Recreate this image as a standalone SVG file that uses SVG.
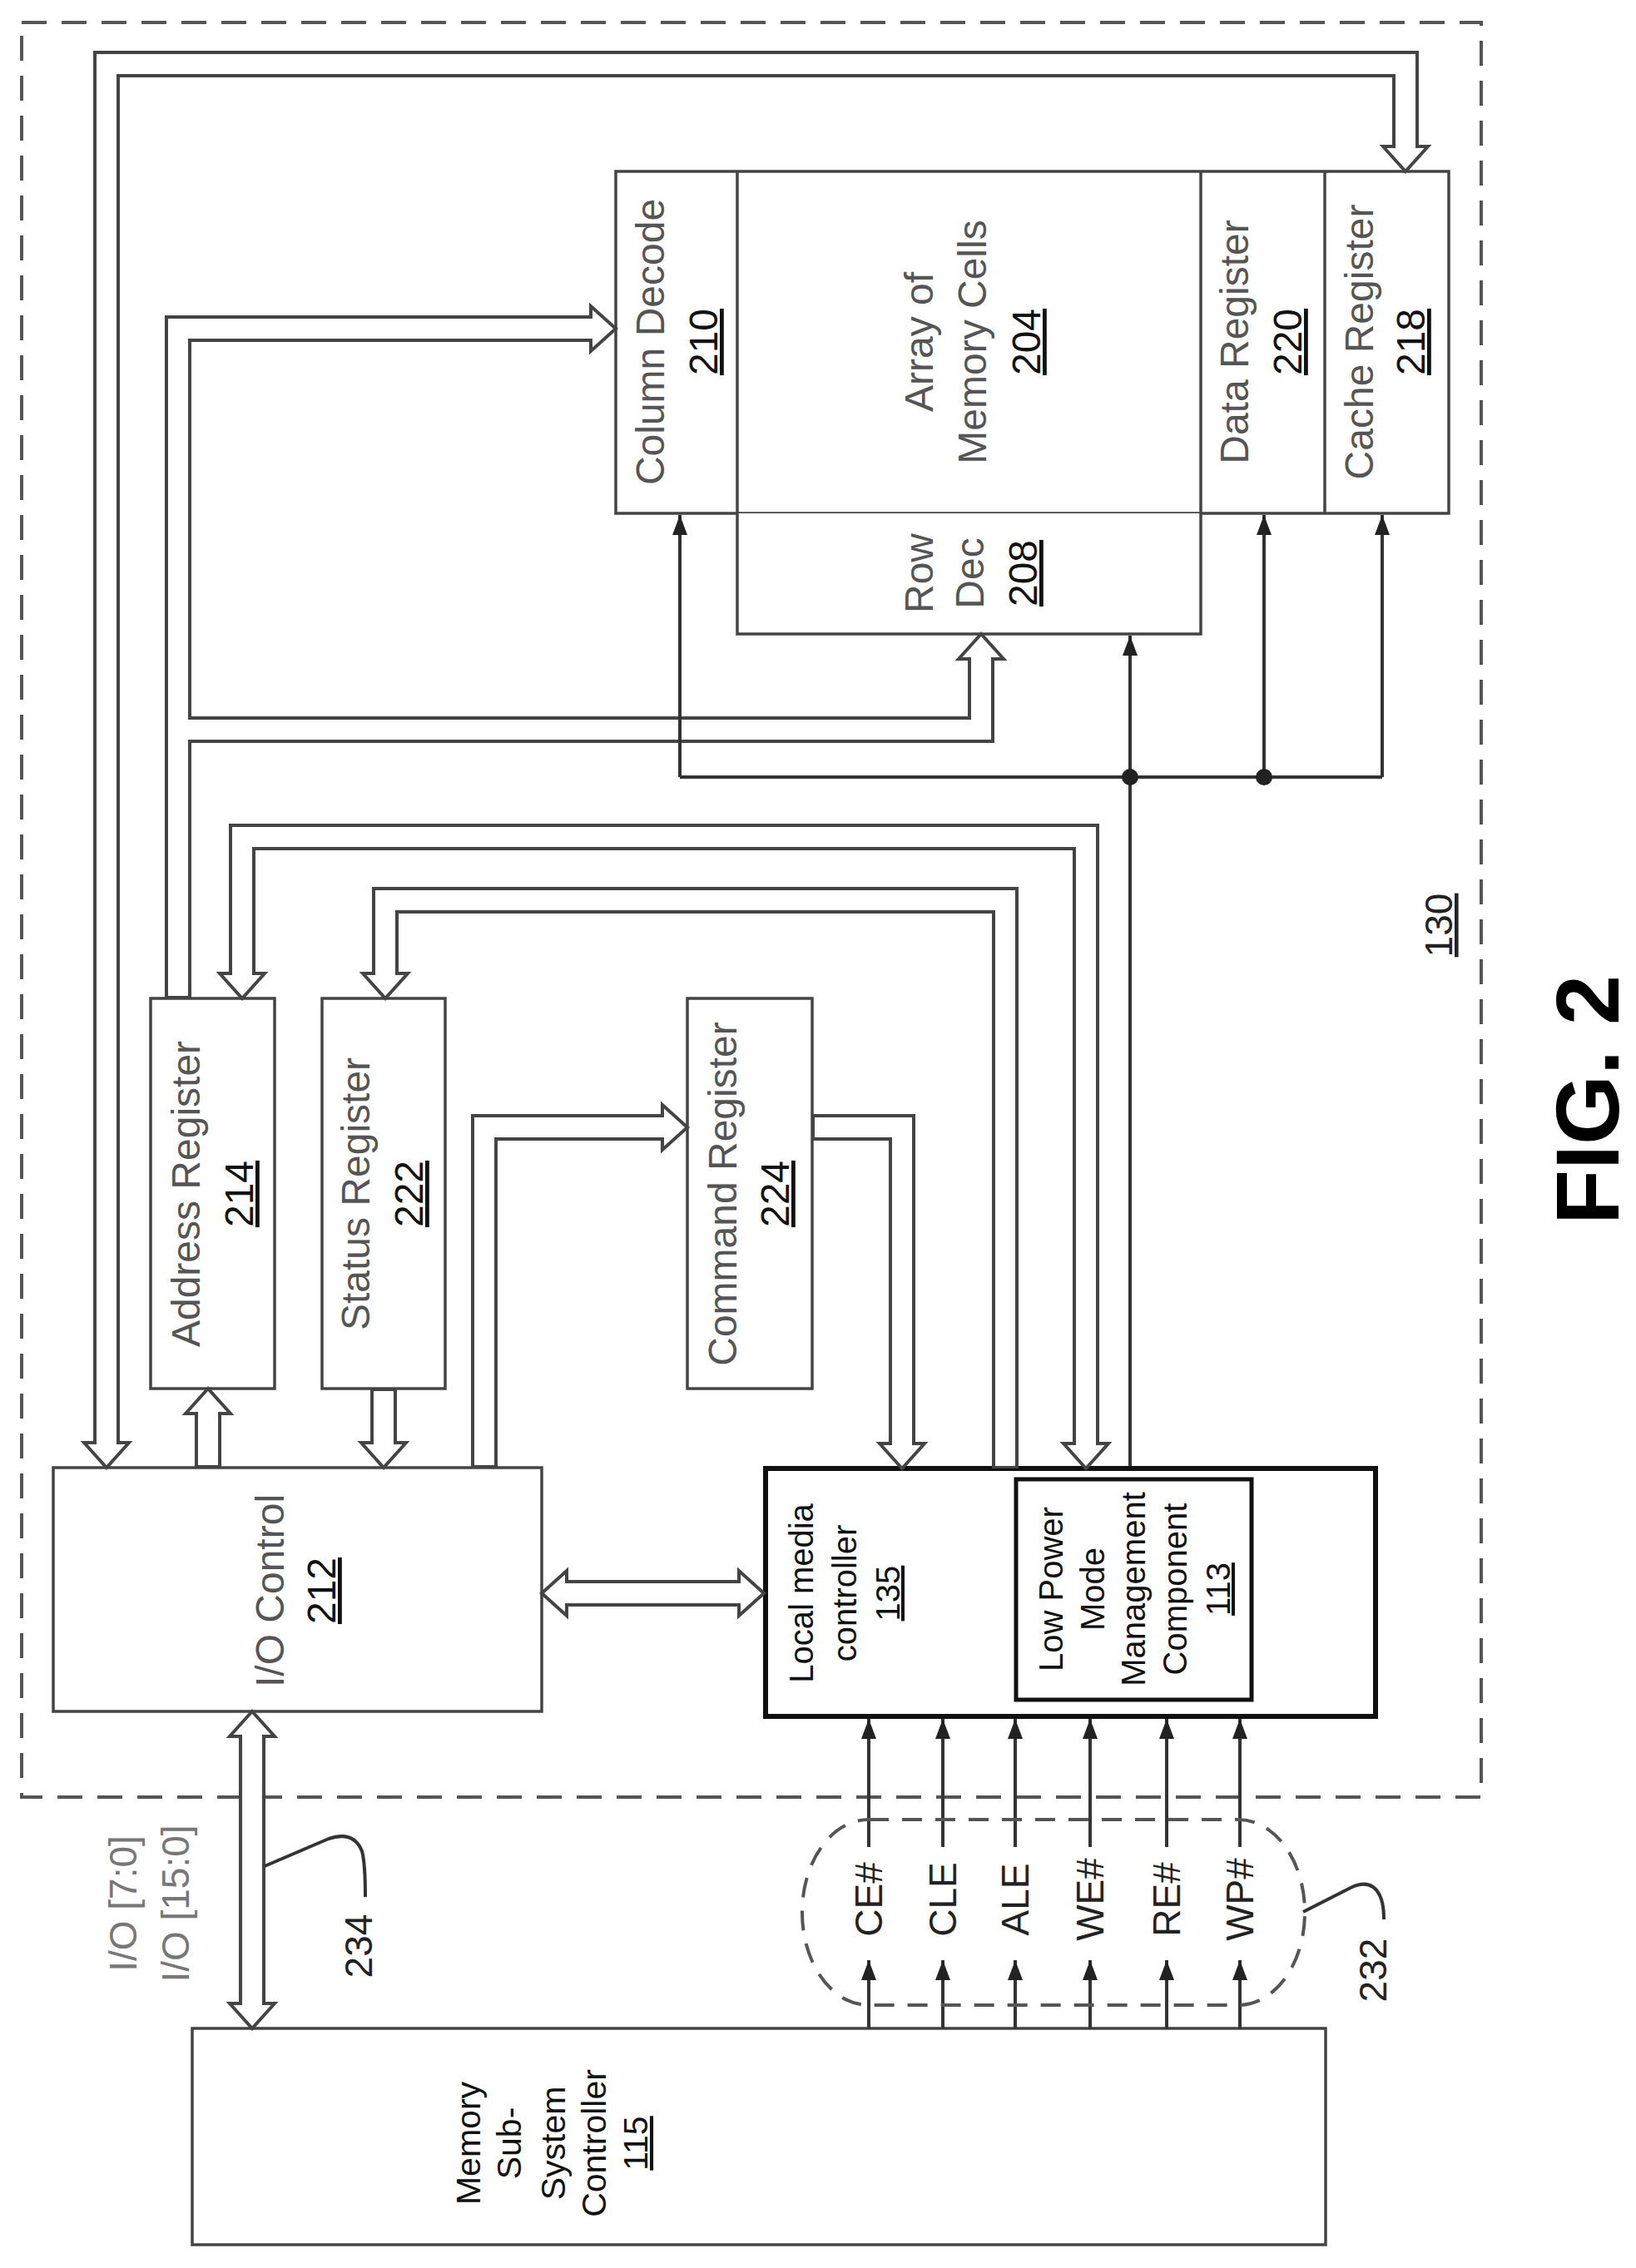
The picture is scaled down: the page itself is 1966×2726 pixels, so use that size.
<svg xmlns="http://www.w3.org/2000/svg" width="1966" height="2726" viewBox="0 0 1966 2726">
<style>
.box{fill:#fff;stroke:#444;stroke-width:3.5}
.bo{fill:none;stroke:#444;stroke-width:32}
.bi{fill:none;stroke:#fff;stroke-width:24}
.ah{fill:#fff;stroke:#444;stroke-width:4;stroke-linejoin:miter}
.ln{fill:none;stroke:#333;stroke-width:4}
.t{font-family:"Liberation Sans",Arial,sans-serif;font-size:48px;fill:#555;text-anchor:middle}
.n{fill:#111;text-decoration:underline}
.s{font-family:"Liberation Sans",Arial,sans-serif;font-size:40px;fill:#111;text-anchor:middle}
</style>
<defs>
<marker id="a" viewBox="0 0 24 18" markerWidth="24" markerHeight="18" refX="24" refY="9" markerUnits="userSpaceOnUse" orient="auto"><path d="M0,0 L24,9 L0,18 z" fill="#222"/></marker>
</defs>
<rect x="26" y="27" width="1754" height="2133" fill="none" stroke="#555" stroke-width="4" stroke-dasharray="30 18"/>
<g id="n204"><rect class="box" x="740" y="206" width="1001" height="411"/>
<line x1="886" y1="206" x2="886" y2="617" stroke="#444" stroke-width="3.5"/>
<line x1="1443" y1="206" x2="1443" y2="617" stroke="#444" stroke-width="3.5"/>
<line x1="1592" y1="206" x2="1592" y2="617" stroke="#444" stroke-width="3.5"/>
<text class="t" transform="translate(0,411) rotate(-90)"><tspan x="0" y="798">Column Decode</tspan><tspan class="n" x="0" y="862">210</tspan></text>
<text class="t" transform="translate(0,411) rotate(-90)"><tspan x="0" y="1121">Array of</tspan><tspan x="0" y="1185">Memory Cells</tspan><tspan class="n" x="0" y="1250">204</tspan></text>
<text class="t" transform="translate(0,411) rotate(-90)"><tspan x="0" y="1500">Data Register</tspan><tspan class="n" x="0" y="1564">220</tspan></text>
<text class="t" transform="translate(0,411) rotate(-90)"><tspan x="0" y="1650">Cache Register</tspan><tspan class="n" x="0" y="1712">218</tspan></text>
</g>
<g id="n208"><path class="box" d="M886,617 V762 H1443 V617"/>
<text class="t" transform="translate(0,689) rotate(-90)"><tspan x="0" y="1121">Row</tspan><tspan x="0" y="1182">Dec</tspan><tspan class="n" x="0" y="1246">208</tspan></text></g>
<g id="n214"><rect class="box" x="181" y="1200" width="149" height="469"/>
<text class="t" transform="translate(0,1435) rotate(-90)"><tspan x="0" y="240">Address Register</tspan><tspan class="n" x="0" y="304">214</tspan></text></g>
<g id="n222"><rect class="box" x="387" y="1200" width="148" height="469"/>
<text class="t" transform="translate(0,1435) rotate(-90)"><tspan x="0" y="444">Status Register</tspan><tspan class="n" x="0" y="508">222</tspan></text></g>
<g id="n224"><rect class="box" x="826" y="1200" width="150" height="469"/>
<text class="t" transform="translate(0,1435) rotate(-90)"><tspan x="0" y="885">Command Register</tspan><tspan class="n" x="0" y="948">224</tspan></text></g>
<g id="n212"><rect class="box" x="64" y="1764" width="587" height="293"/>
<text class="t" transform="translate(0,1912) rotate(-90)"><tspan x="0" y="341">I/O Control</tspan><tspan class="n" x="0" y="403">212</tspan></text></g>
<g id="n135"><rect x="920" y="1765" width="733" height="298" fill="#fff" stroke="#111" stroke-width="6"/>
<text class="s" transform="translate(0,1915) rotate(-90)"><tspan x="0" y="977">Local media</tspan><tspan x="0" y="1029">controller</tspan><tspan x="0" y="1081" text-decoration="underline">135</tspan></text></g>
<g id="n113"><rect x="1221" y="1778" width="283" height="265" fill="#fff" stroke="#111" stroke-width="5"/>
<text class="s" transform="translate(0,1910) rotate(-90)"><tspan x="0" y="1277">Low Power</tspan><tspan x="0" y="1327">Mode</tspan><tspan x="0" y="1376">Management</tspan><tspan x="0" y="1426">Component</tspan><tspan x="0" y="1478" text-decoration="underline">113</tspan></text></g>
<g id="n115"><rect class="box" x="231" y="2438" width="1362" height="260"/>
<text class="s" style="font-size:41px" transform="translate(0,2576) rotate(-90)"><tspan x="0" y="577">Memory</tspan><tspan x="0" y="626">Sub-</tspan><tspan x="0" y="679">System</tspan><tspan x="0" y="728">Controller</tspan><tspan x="0" y="778" text-decoration="underline">115</tspan></text></g>
<g id="connectors">
<path class="bo" d="M128,1734 V77 H1689 V176"/>
<path class="bo" d="M214,1200 V395 H710"/>
<path class="bo" d="M214,877 H1179 V792"/>
<path class="bo" d="M291,1170 V1006 H1305 V1735"/>
<path class="bo" d="M463,1170 V1082 H1208 V1765"/>
<path class="bo" d="M582,1764 V1355 H796"/>
<path class="bo" d="M976,1355 H1084 V1735"/>
<path class="bo" d="M250,1764 V1699"/>
<path class="bo" d="M461,1669 V1734"/>
<path class="bo" d="M681,1915 H888"/>
<path class="bo" d="M303,2087 V2408"/>
<polygon class="ah" points="101,1734 128,1764 155,1734"/>
<polygon class="ah" points="1662,176 1689,206 1716,176"/>
<polygon class="ah" points="710,368 740,395 710,422"/>
<polygon class="ah" points="1152,792 1179,762 1206,792"/>
<polygon class="ah" points="264,1170 291,1200 318,1170"/>
<polygon class="ah" points="1278,1735 1305,1765 1332,1735"/>
<polygon class="ah" points="436,1170 463,1200 490,1170"/>
<polygon class="ah" points="796,1328 826,1355 796,1382"/>
<polygon class="ah" points="1057,1735 1084,1765 1111,1735"/>
<polygon class="ah" points="223,1699 250,1669 277,1699"/>
<polygon class="ah" points="434,1734 461,1764 488,1734"/>
<polygon class="ah" points="681,1888 651,1915 681,1942"/>
<polygon class="ah" points="888,1888 918,1915 888,1942"/>
<polygon class="ah" points="276,2087 303,2057 330,2087"/>
<polygon class="ah" points="276,2408 303,2438 330,2408"/>
<path class="bi" d="M128,1737 V77 H1689 V179"/>
<path class="bi" d="M214,1197 V395 H713"/>
<path class="bi" d="M214,877 H1179 V789"/>
<path class="bi" d="M291,1173 V1006 H1305 V1738"/>
<path class="bi" d="M463,1173 V1082 H1208 V1762"/>
<path class="bi" d="M582,1761 V1355 H799"/>
<path class="bi" d="M979,1355 H1084 V1738"/>
<path class="bi" d="M250,1761 V1696"/>
<path class="bi" d="M461,1672 V1737"/>
<path class="bi" d="M678,1915 H891"/>
<path class="bi" d="M303,2084 V2411"/>
<path class="ln" d="M817,934 H1661"/>
<path class="ln" d="M817,934 V619" marker-end="url(#a)"/>
<path class="ln" d="M1519,934 V619" marker-end="url(#a)"/>
<path class="ln" d="M1661,934 V619" marker-end="url(#a)"/>
<path class="ln" d="M1358,1762 V764" marker-end="url(#a)"/>
<circle cx="1358" cy="934" r="10" fill="#222"/>
<circle cx="1519" cy="934" r="10" fill="#222"/>
<g class="ln" marker-end="url(#a)">
<path d="M1044,2438 V2356"/><path d="M1044,2220 V2066"/>
<path d="M1133,2438 V2356"/><path d="M1133,2220 V2066"/>
<path d="M1220,2438 V2356"/><path d="M1220,2220 V2066"/>
<path d="M1310,2438 V2356"/><path d="M1310,2220 V2066"/>
<path d="M1402,2438 V2356"/><path d="M1402,2220 V2066"/>
<path d="M1490,2438 V2356"/><path d="M1490,2220 V2066"/>
</g>
<rect x="964" y="2187" width="604" height="223" rx="80" ry="111" fill="none" stroke="#555" stroke-width="4" stroke-dasharray="24 16"/>
<path class="ln" d="M1566,2298 L1625,2268 Q1648,2258 1658,2278 Q1663,2288 1663,2307"/>
<path class="ln" d="M318,2243 L395,2210 Q425,2200 435,2225 Q439,2240 439,2280"/>
</g>
<g id="labels">
<g font-family="Liberation Sans, Arial, sans-serif" font-size="46" fill="#222" text-anchor="middle">
<text transform="translate(1060,2283) rotate(-90)">CE#</text>
<text transform="translate(1149,2283) rotate(-90)">CLE</text>
<text transform="translate(1236,2283) rotate(-90)">ALE</text>
<text transform="translate(1326,2283) rotate(-90)">WE#</text>
<text transform="translate(1418,2283) rotate(-90)">RE#</text>
<text transform="translate(1506,2283) rotate(-90)">WP#</text>
<text transform="translate(447,2339) rotate(-90)">234</text>
<text transform="translate(1666,2368) rotate(-90)">232</text>
<text transform="translate(1745,1112) rotate(-90)" text-decoration="underline">130</text>
<text transform="translate(164,2288) rotate(-90)" fill="#777">I/O [7:0]</text>
<text transform="translate(227,2288) rotate(-90)" fill="#777">I/O [15:0]</text>
<text transform="translate(1945,1322) rotate(-90)" font-size="108" font-weight="bold" fill="#000">FIG. 2</text>
</g>
</g>
</svg>
